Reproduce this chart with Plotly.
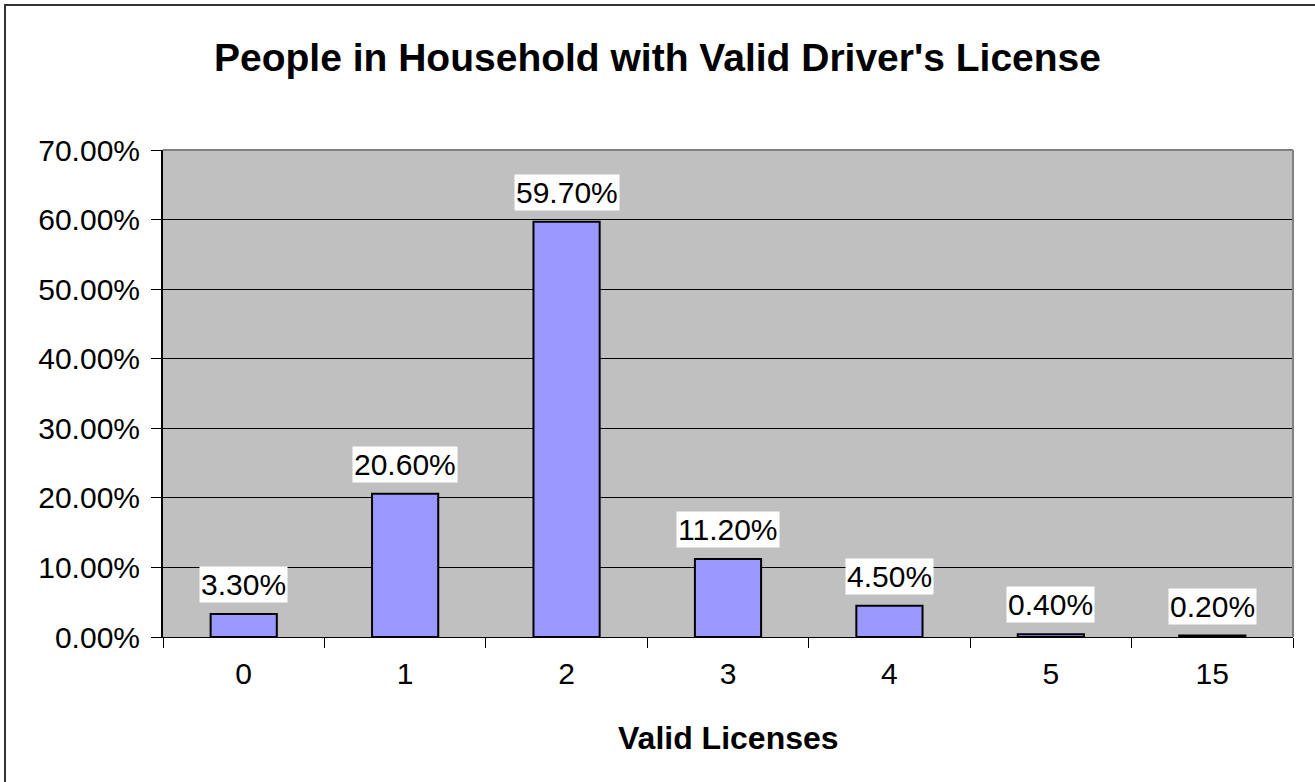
import plotly.graph_objects as go

categories = ["0", "1", "2", "3", "4", "5", "15"]
values = [0.033, 0.206, 0.597, 0.112, 0.045, 0.004, 0.002]
labels = ["3.30%", "20.60%", "59.70%", "11.20%", "4.50%", "0.40%", "0.20%"]

FONT = "Liberation Sans, Arial, sans-serif"

fig = go.Figure()
fig.add_trace(go.Bar(
    x=categories, y=values,
    marker=dict(color="#9999FF", line=dict(color="black", width=2)),
    hoverinfo="skip",
))

for i, (v, t) in enumerate(zip(values, labels)):
    fig.add_annotation(x=i, y=v, xref="x", yref="y", text=t, showarrow=False,
                       yanchor="bottom", yshift=11, bgcolor="white", borderpad=1,
                       font=dict(family=FONT, size=30, color="black"))

# plot area top/right border (gray)
fig.add_shape(type="line", xref="paper", yref="paper", x0=0, x1=1, y0=1, y1=1,
              line=dict(color="#808080", width=2), layer="above")
fig.add_shape(type="line", xref="paper", yref="paper", x0=1, x1=1, y0=0, y1=1,
              line=dict(color="#808080", width=2), layer="above")
# outer chart border (right/bottom edges fall outside the visible frame)
fig.add_shape(type="rect", xref="paper", yref="paper",
              x0=(5 - 163) / 1130, x1=(1340 - 163) / 1130,
              y0=(637 - 810) / 487, y1=(637 - 5) / 487,
              line=dict(color="#333333", width=2), fillcolor="rgba(0,0,0,0)", layer="above")

fig.add_annotation(text="<b>Valid Licenses</b>", xref="paper", yref="paper",
                   x=0.5, y=(637 - 738) / 487, showarrow=False,
                   xanchor="center", yanchor="middle",
                   font=dict(family=FONT, size=32, color="black"))

fig.update_layout(
    width=1315, height=782,
    margin=dict(l=163, r=22, t=150, b=145),
    paper_bgcolor="white", plot_bgcolor="#C0C0C0",
    bargap=0.59, showlegend=False,
    title=dict(text="<b>People in Household with Valid Driver's License</b>",
               x=0.5, xanchor="center", xref="container",
               y=1 - 57 / 782, yanchor="middle", yref="container",
               font=dict(family=FONT, size=39, color="black")),
    font=dict(family=FONT, color="black"),
)
fig.update_xaxes(type="category", range=[-0.5, len(categories) - 0.5],
                 showline=True, linecolor="black", linewidth=1,
                 ticks="outside", tickson="boundaries", ticklen=10, tickcolor="black",
                 ticklabelstandoff=10,
                 tickfont=dict(family=FONT, size=30, color="black"),
                 showgrid=False, fixedrange=True)
fig.update_yaxes(range=[0, 0.7], dtick=0.1, tickformat=".2%", showline=True,
                 linecolor="black", linewidth=2, ticks="outside", ticklen=10,
                 tickcolor="black", showgrid=True, gridcolor="black", gridwidth=1,
                 zeroline=False, ticklabelstandoff=5,
                 tickfont=dict(family=FONT, size=30, color="black"), fixedrange=True)

fig.write_html("out.html", config={"displayModeBar": False},
               post_script="document.body.style.margin='0';")
